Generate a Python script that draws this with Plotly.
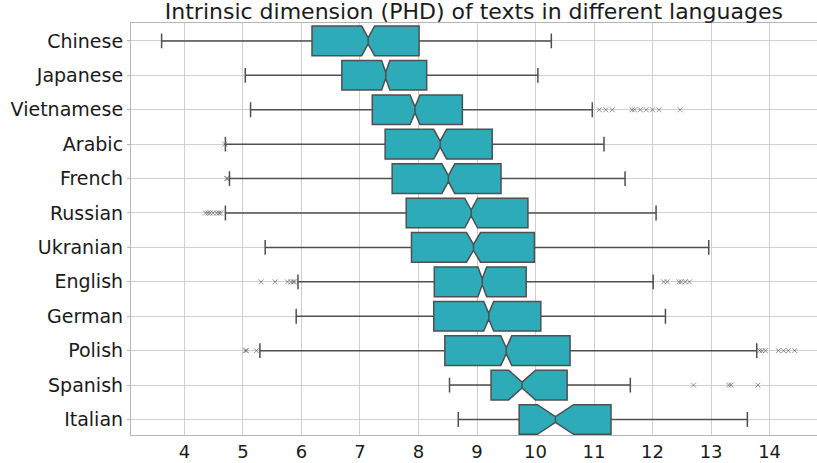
import plotly.graph_objects as go

languages = ["Chinese", "Japanese", "Vietnamese", "Arabic", "French", "Russian",
             "Ukranian", "English", "German", "Polish", "Spanish", "Italian"]
lower_whisker = [3.61, 5.04, 5.13, 4.70, 4.77, 4.70, 5.38, 5.94, 5.91, 5.29, 8.53, 8.68]
q1 = [6.18, 6.69, 7.21, 7.43, 7.55, 7.79, 7.88, 8.27, 8.26, 8.45, 9.24, 9.72]
median = [7.14, 7.44, 7.94, 8.37, 8.51, 8.90, 8.94, 9.09, 9.20, 9.50, 9.77, 10.34]
q3 = [8.01, 8.14, 8.75, 9.26, 9.41, 9.87, 9.98, 9.84, 10.09, 10.59, 10.54, 11.29]
upper_whisker = [10.27, 10.04, 10.97, 11.17, 11.53, 12.06, 12.96, 12.01, 12.22, 13.78, 11.62, 13.62]
notch_half = [0.11, 0.07, 0.085, 0.11, 0.11, 0.11, 0.12, 0.075, 0.085, 0.094, 0.23, 0.31]

outliers = {
    "Vietnamese": [11.09, 11.20, 11.31, 11.65, 11.69, 11.79, 11.89, 12.00, 12.11, 12.47],
    "Arabic": [4.69],
    "French": [4.72, 4.74],
    "Russian": [4.36, 4.40, 4.44, 4.49, 4.55, 4.59, 4.62],
    "English": [5.31, 5.55, 5.76, 5.82, 5.86, 5.88, 12.19, 12.25, 12.45, 12.49, 12.56, 12.63],
    "Polish": [5.04, 5.06, 5.23, 13.83, 13.87, 13.93, 14.15, 14.24, 14.32, 14.43],
    "Spanish": [12.70, 13.30, 13.34, 13.80],
}

fill_color = "#2eabb8"
edge_color = "#4f4f4f"

fig = go.Figure()
fig.add_trace(go.Box(
    y=languages,
    q1=q1, median=median, q3=q3,
    lowerfence=lower_whisker, upperfence=upper_whisker,
    notchspan=notch_half,
    notched=True, notchwidth=0.4,
    orientation="h",
    width=0.86,
    whiskerwidth=0.5,
    fillcolor=fill_color,
    line=dict(color=edge_color, width=1.5),
    boxpoints=False,
    hoverinfo="skip",
    showlegend=False,
))

ox, oy = [], []
for lang, vals in outliers.items():
    for v in vals:
        ox.append(v)
        oy.append(lang)
fig.add_trace(go.Scatter(
    x=ox, y=oy, mode="markers",
    marker=dict(symbol="x-thin", size=5, line=dict(color="rgba(80,80,80,0.6)", width=1)),
    showlegend=False, hoverinfo="skip",
))

fig.update_layout(
    width=817, height=463,
    margin=dict(l=131, r=0, t=23, b=28, autoexpand=False),
    paper_bgcolor="white", plot_bgcolor="white",
    font=dict(family="DejaVu Sans", color="#1a1a1a"),
    title=dict(text="Intrinsic dimension (PHD) of texts in different languages",
               x=0.58, xanchor="center", y=0.975, yanchor="middle",
               font=dict(size=22, family="DejaVu Sans", color="#1a1a1a")),
)
fig.update_xaxes(
    range=[3.087, 14.81], tickvals=list(range(4, 15)),
    showgrid=True, gridcolor="#cfcfcf", gridwidth=1,
    showline=True, linecolor="#b5b5b5", linewidth=1.2, mirror=True,
    ticks="", ticklabelstandoff=0,
    tickfont=dict(size=18), zeroline=False, automargin=False,
)
fig.update_yaxes(
    type="category", categoryorder="array", categoryarray=languages,
    range=[11.45, -0.52],
    showgrid=True, gridcolor="#cfcfcf", gridwidth=1,
    showline=True, linecolor="#b5b5b5", linewidth=1.2, mirror=True,
    ticks="outside", ticklen=3, tickcolor="#b5b5b5",
    tickfont=dict(size=19), zeroline=False, automargin=False,
)

fig.write_html("out.html", config={"displayModeBar": False},
               post_script="document.body.style.margin='0';document.body.style.overflow='hidden';")
